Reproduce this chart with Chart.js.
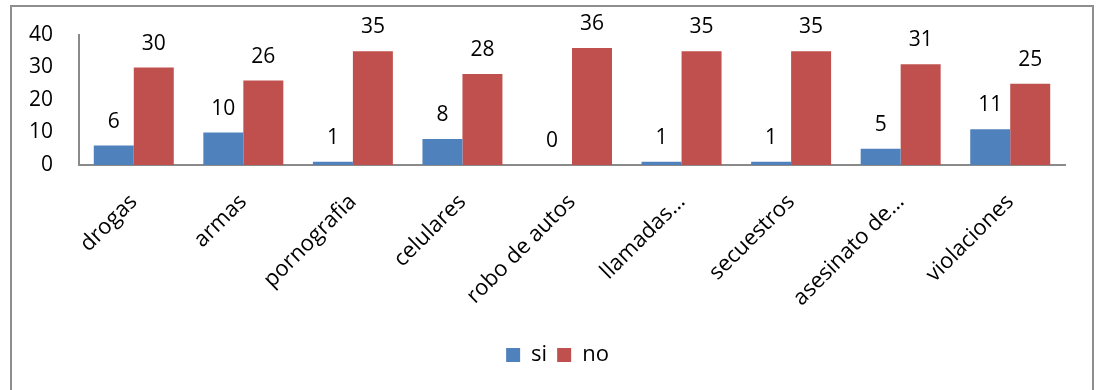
<!DOCTYPE html>
<html>
<head>
<meta charset="utf-8">
<script src="https://cdn.jsdelivr.net/npm/chart.js@4/dist/chart.umd.min.js"></script>
<style>
  html, body { margin: 0; padding: 0; background: #fff; }
  #wrap { width: 1097px; height: 390px; position: relative; }
</style>
</head>
<body>
<div id="wrap"><canvas id="c" width="1097" height="390"></canvas></div>
<script>
const categories = ['drogas', 'armas', 'pornografia', 'celulares', 'robo de autos', 'llamadas…', 'secuestros', 'asesinato de…', 'violaciones'];
const siValues = [6, 10, 1, 8, 0, 1, 1, 5, 11];
const noValues = [30, 26, 35, 28, 36, 35, 35, 31, 25];
const yTicks = [0, 10, 20, 30, 40];

const FONT = '"Open Sans", Lato, sans-serif';

// Frame around the whole chart
const framePlugin = {
  id: 'frame',
  beforeDraw(chart) {
    const ctx = chart.ctx;
    ctx.save();
    ctx.fillStyle = '#fff';
    ctx.fillRect(0, 0, chart.width, chart.height);
    ctx.strokeStyle = '#8e8e8e';
    ctx.lineWidth = 2;
    ctx.strokeRect(11, 6, 1082, 400);
    ctx.restore();
  }
};

// Nudge the legend so it sits centred under the plot, right of the axis labels
const legendShift = {
  id: 'legendShift',
  afterLayout(chart) {
    const lg = chart.legend;
    if (lg) { lg.left += 20; lg.right += 20; }
  }
};

// Value written above each bar
const valueLabels = {
  id: 'valueLabels',
  afterDatasetsDraw(chart) {
    const ctx = chart.ctx;
    ctx.save();
    ctx.font = '21px ' + FONT;
    ctx.fillStyle = '#000';
    ctx.textAlign = 'center';
    ctx.textBaseline = 'alphabetic';
    chart.data.datasets.forEach((ds, i) => {
      chart.getDatasetMeta(i).data.forEach((bar, j) => {
        ctx.fillText(String(ds.data[j]), bar.x, bar.y - 18);
      });
    });
    ctx.restore();
  }
};

new Chart(document.getElementById('c'), {
  type: 'bar',
  data: {
    labels: categories,
    datasets: [
      { label: 'si', data: siValues, backgroundColor: '#4F81BD', categoryPercentage: 0.73, barPercentage: 1.0 },
      { label: 'no', data: noValues, backgroundColor: '#C0504D', categoryPercentage: 0.73, barPercentage: 1.0 }
    ]
  },
  options: {
    responsive: false,
    animation: false,
    devicePixelRatio: 1,
    layout: { padding: { left: 10, right: 32, top: 35, bottom: 14 } },
    plugins: {
      legend: {
        position: 'bottom',
        labels: {
          font: { size: 22, family: FONT },
          color: '#000',
          boxWidth: 14,
          boxHeight: 14,
          padding: 10
        }
      },
      tooltip: { enabled: false }
    },
    scales: {
      x: {
        grid: { display: false, drawTicks: false },
        border: { color: '#8a8a8a', width: 2 },
        ticks: {
          font: { size: 22, family: FONT },
          color: '#000',
          maxRotation: 45,
          minRotation: 45,
          padding: 24,
          autoSkip: false
        },
        afterFit(scale) { scale.height = 169; }
      },
      y: {
        min: 0,
        max: 40,
        grid: { display: false, drawTicks: false },
        border: { color: '#8a8a8a', width: 2 },
        afterBuildTicks(scale) { scale.ticks = yTicks.map(v => ({ value: v })); },
        ticks: {
          font: { size: 21, family: FONT },
          color: '#000',
          padding: 26
        },
        afterFit(scale) {
          scale.width = 69;
          scale.paddingTop = 0;
          scale.paddingBottom = 0;
        }
      }
    }
  },
  plugins: [framePlugin, legendShift, valueLabels]
});
</script>
</body>
</html>
